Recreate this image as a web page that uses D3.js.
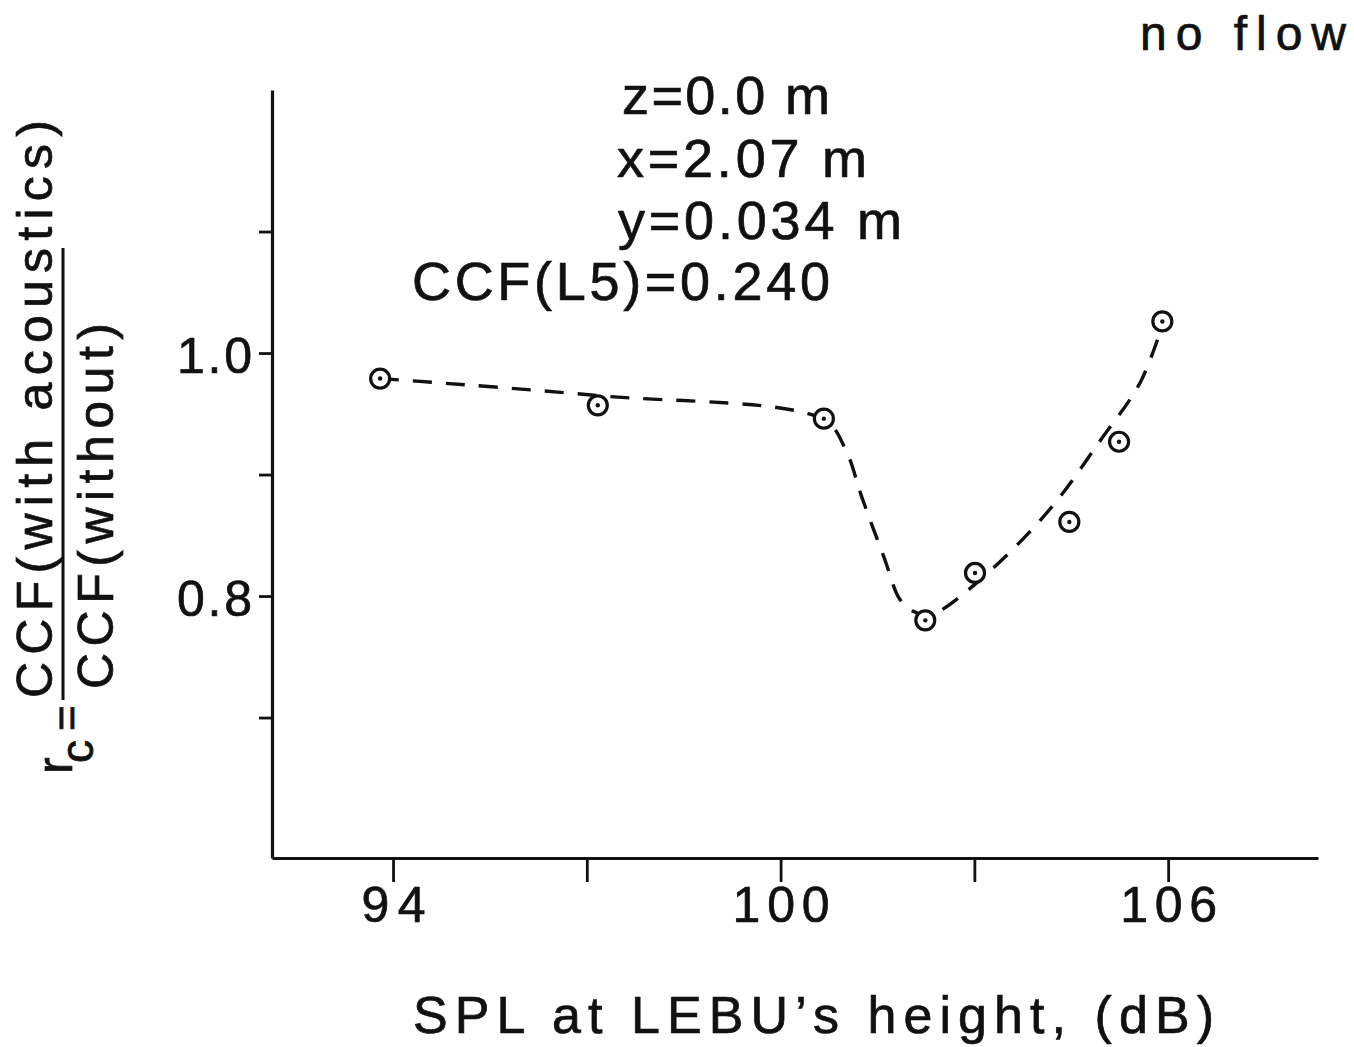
<!DOCTYPE html>
<html>
<head>
<meta charset="utf-8">
<script src="https://cdn.jsdelivr.net/npm/d3@7"></script>
<style>
  body { margin: 0; background: #fff; }
  text { font-family: "Liberation Sans", Arial, sans-serif; fill: #111; stroke: #111; stroke-width: 0.7px; }
</style>
</head>
<body>
<div class="chartspace"></div>
<script>
// measured points
var splValues = [93.80, 97.17, 100.67, 102.24, 103.01, 104.47, 105.24, 105.91];
var rcValues  = [0.979, 0.957, 0.946, 0.780, 0.819, 0.861, 0.927, 1.026];

// hand-drawn dashed fit
var fitSpl = [93.80, 97.17, 100.67, 101.01, 101.26, 101.60, 101.85, 102.07, 102.26, 102.47, 102.72, 103.49, 104.24, 104.95, 105.57, 105.91];
var fitRc  = [0.979, 0.965, 0.945, 0.920, 0.881, 0.832, 0.797, 0.787, 0.784, 0.788, 0.797, 0.833, 0.876, 0.928, 0.976, 1.023];

var xTicks = [94, 97, 100, 103, 106];
var xTickLabels = ["94", "", "100", "", "106"];
var yTicks = [0.7, 0.8, 0.9, 1.0, 1.1];
var yTickLabels = ["", "0.8", "", "1.0", ""];

var infoLines = ["z=0.0 m", "x=2.07 m", "y=0.034 m", "CCF(L5)=0.240"];

var svg = d3.select(".chartspace").append("svg")
    .attr("width", 1354)
    .attr("height", 1047);

var x = d3.scaleLinear().domain([92.126, 108.32]).range([272, 1318]);
var y = d3.scaleLinear().domain([0.5844, 1.2165]).range([858, 90]);

// x axis
var xAxis = svg.append("g")
    .attr("transform", "translate(0,858)")
    .call(d3.axisBottom(x)
        .tickValues(xTicks)
        .tickSize(24)
        .tickSizeOuter(0)
        .tickFormat(function (d, i) { return xTickLabels[i]; }));
xAxis.select(".domain").attr("stroke", "#111").attr("stroke-width", 3.2);
xAxis.selectAll(".tick line").attr("stroke", "#111").attr("stroke-width", 2.8);
xAxis.selectAll(".tick text")
    .attr("y", 64)
    .attr("dy", null)
    .attr("fill", "#111")
    .style("font-size", "50px")
    .attr("textLength", function (d, i) { return xTickLabels[i].length == 3 ? 97 : 64; })
    .attr("lengthAdjust", "spacing");

// y axis
var yAxis = svg.append("g")
    .attr("transform", "translate(272,0)")
    .call(d3.axisLeft(y)
        .tickValues(yTicks)
        .tickSize(13)
        .tickSizeOuter(0)
        .tickFormat(function (d, i) { return yTickLabels[i]; }));
yAxis.select(".domain").attr("stroke", "#111").attr("stroke-width", 3.2);
yAxis.selectAll(".tick line").attr("stroke", "#111").attr("stroke-width", 2.8);
yAxis.selectAll(".tick text")
    .attr("x", -20)
    .attr("dy", "0.38em")
    .attr("fill", "#111")
    .style("font-size", "50px")
    .attr("textLength", 75)
    .attr("lengthAdjust", "spacing");

// dashed fit curve
var fitPoints = fitSpl.map(function (d, i) { return [d, fitRc[i]]; });
var line = d3.line()
    .x(function (d) { return x(d[0]); })
    .y(function (d) { return y(d[1]); })
    .curve(d3.curveCatmullRom.alpha(0.5));

svg.append("path")
    .attr("d", line(fitPoints))
    .attr("fill", "none")
    .attr("stroke", "#111")
    .attr("stroke-width", 3.4)
    .attr("stroke-dasharray", "19,14");

// data points: circle with a dot inside
var points = splValues.map(function (d, i) { return { spl: d, rc: rcValues[i] }; });
var marks = svg.selectAll("g.mark")
    .data(points)
    .enter()
    .append("g")
    .attr("class", "mark")
    .attr("transform", function (d) { return "translate(" + x(d.spl) + "," + y(d.rc) + ")"; });
marks.append("circle")
    .attr("r", 9.5)
    .attr("fill", "#fff")
    .attr("stroke", "#111")
    .attr("stroke-width", 3.2);
marks.append("circle")
    .attr("r", 2.2)
    .attr("fill", "#111");

// annotations
svg.append("text")
    .attr("x", 1140).attr("y", 50)
    .style("font-size", "48px")
    .attr("textLength", 206).attr("lengthAdjust", "spacing")
    .text("no flow");

var infoX = [622, 617, 618, 412];
var infoY = [114, 177, 239, 300];
var infoLen = [208, 250, 284, 418];
svg.selectAll("text.info")
    .data(infoLines)
    .enter()
    .append("text")
    .attr("class", "info")
    .attr("x", function (d, i) { return infoX[i]; })
    .attr("y", function (d, i) { return infoY[i]; })
    .style("font-size", "54px")
    .attr("textLength", function (d, i) { return infoLen[i]; })
    .attr("lengthAdjust", "spacing")
    .text(function (d) { return d; });

// x axis title
svg.append("text")
    .attr("x", 413).attr("y", 1033)
    .style("font-size", "52px")
    .attr("textLength", 801).attr("lengthAdjust", "spacing")
    .text("SPL at LEBU\u2019s height, (dB)");

// y axis title: r_c = CCF(with acoustics) / CCF(without)
function vText(bx, sy, size, len, str) {
    var t = svg.append("text")
        .attr("transform", "translate(" + bx + "," + sy + ") rotate(-90)")
        .style("font-size", size + "px")
        .text(str);
    if (len) t.attr("textLength", len).attr("lengthAdjust", "spacing");
    return t;
}
vText(72, 774, 50, null, "r");
vText(93, 763, 46, null, "c");
vText(82, 731, 44, null, "=");
vText(52, 698, 50, 578, "CCF(with acoustics)");
vText(113, 689, 50, 366, "CCF(without)");
svg.append("line")
    .attr("x1", 63).attr("x2", 63)
    .attr("y1", 700).attr("y2", 248)
    .attr("stroke", "#111")
    .attr("stroke-width", 3);
</script>
</body>
</html>
